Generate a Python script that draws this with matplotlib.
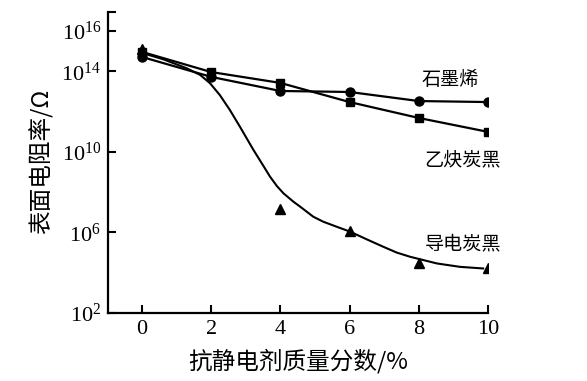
import matplotlib.pyplot as plt
import numpy as np

plt.rcParams['font.family'] = ['Noto Sans CJK SC', 'DejaVu Sans']
plt.rcParams['mathtext.fontset'] = 'custom'
plt.rcParams['mathtext.rm'] = 'Liberation Serif'
plt.rcParams['mathtext.it'] = 'Liberation Serif'

# mass fraction of antistatic agent (%)
content = [0, 2, 4, 6, 8, 10]

# log10 of surface resistivity
graphene_log = [14.71, 13.72, 13.02, 12.97, 12.52, 12.47]
acetylene_log = [14.96, 13.96, 13.42, 12.47, 11.68, 10.99]

triangle_x = [0, 4, 6, 8, 10]
conductive_log = [15.10, 7.16, 6.07, 4.48, 4.23]

# fitted curve of the conductive black
curve_x = [0.04, 0.62, 1.29, 1.68, 1.97, 2.25, 2.54, 2.83, 3.22, 3.51, 3.70, 3.90, 4.09,
           4.38, 4.57, 4.95, 5.24, 5.63, 6.01, 6.49, 6.97, 7.36, 7.75, 8.52, 9.19, 9.86]
curve_log = [14.89, 14.59, 14.15, 13.82, 13.40, 12.82, 12.08, 11.25, 10.10, 9.30, 8.77, 8.30, 7.94,
             7.52, 7.28, 6.78, 6.53, 6.28, 6.04, 5.66, 5.29, 5.00, 4.79, 4.46, 4.29, 4.21]

ytick_exp = [2, 6, 10, 14, 16]
xticks = [0, 2, 4, 6, 8, 10]

fig = plt.figure(figsize=(5.87, 3.81), dpi=100)
ax = fig.add_axes([0.184, 0.1785, 0.6474, 0.790])

ax.plot(content, 10 ** np.array(graphene_log), color='black', lw=1.6,
        marker='o', markersize=6.5)
ax.plot(content, 10 ** np.array(acetylene_log), color='black', lw=1.6,
        marker='s', markersize=6)
ax.plot(curve_x, 10 ** np.array(curve_log), color='black', lw=1.5,
        solid_joinstyle='round')
ax.plot(triangle_x, 10 ** np.array(conductive_log), color='black', lw=0,
        marker='^', markersize=7)

ax.set_yscale('log')
ax.set_xlim(-0.98, 10)
ax.set_ylim(1e2, 10 ** 16.94)

ax.set_xticks(xticks)
ax.set_xticklabels([str(v) for v in xticks], family='Liberation Serif', fontsize=16)
ax.set_yticks([10.0 ** e for e in ytick_exp])
ax.set_yticklabels([r'$10^{%d}$' % e for e in ytick_exp], fontsize=16)
ax.yaxis.set_minor_locator(plt.FixedLocator([10 ** 16.94]))
ax.yaxis.set_minor_formatter(plt.NullFormatter())

for side in ['top', 'right']:
    ax.spines[side].set_visible(False)
for side in ['left', 'bottom']:
    ax.spines[side].set_linewidth(1.6)

ax.tick_params(axis='both', which='major', direction='in', length=6, width=1.5, pad=5)
ax.tick_params(axis='y', which='minor', direction='in', length=6, width=1.5)

ax.set_xlabel('抗静电剂质量分数/%', fontsize=17, va='center')
ax.set_ylabel('表面电阻率/Ω', fontsize=17, va='center')
ax.xaxis.set_label_coords(0.501, -0.159)
ax.yaxis.set_label_coords(-0.174, 0.505)

ax.text(8.9, 10 ** 13.6, '石墨烯', fontsize=13.8, ha='center', va='center')
ax.text(9.27, 10 ** 9.6, '乙炔炭黑', fontsize=13.8, ha='center', va='center')
ax.text(9.27, 10 ** 5.43, '导电炭黑', fontsize=13.8, ha='center', va='center')

fig.savefig('out.png', dpi=100)
